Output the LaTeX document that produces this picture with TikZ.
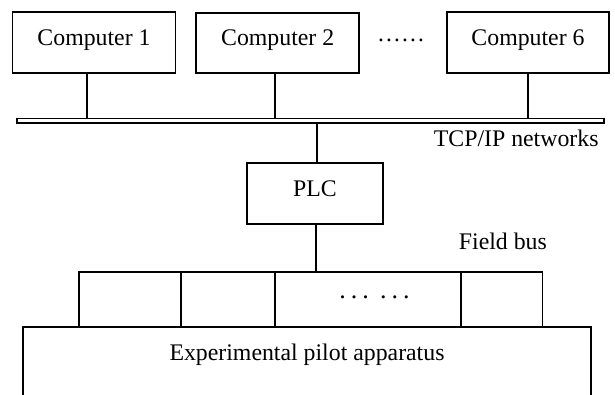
\documentclass[tikz,border=0pt]{standalone}
\usepackage{fontspec}
\setmainfont{Liberation Serif}
\begin{document}
\begin{tikzpicture}[x=1pt,y=-1pt,line width=1.8pt,
  lbl/.style={font=\fontsize{23.8pt}{28pt}\selectfont, inner sep=0pt},
  box/.style={draw, lbl, text height=15.7pt, text depth=10pt, minimum width=#1},
  box/.default=163pt]
\useasboundingbox (0,0) rectangle (615,394);
% computers
\node[box, minimum height=61pt] (c1) at (94,42.2) {Computer 1};
\node[box, minimum height=59.4pt] (c2) at (277.7,43) {Computer 2};
\node[box=162.6pt, minimum height=61pt] (c6) at (528,42.2) {Computer 6};
\node[lbl, anchor=base] (dots1) at (401,41.5) {……};
% TCP/IP bar
\node[draw, fill=white, inner sep=0pt, minimum width=587.3pt, minimum height=4.3pt] (bar) at (310.35,120.65) {};
\node[lbl, anchor=base west] (tcp) at (433,146.7) {TCP/IP networks};
\draw ([xshift=-6.7pt]c1.south) -- ([xshift=-6.7pt]c1.south |- bar.north);
\draw ([xshift=-2.4pt]c2.south) -- ([xshift=-2.4pt]c2.south |- bar.north);
\draw ([xshift=-0.3pt]c6.south) -- ([xshift=-0.3pt]c6.south |- bar.north);
% PLC
\node[box=136.6pt, minimum height=61.3pt] (plc) at (315,193.4) {PLC};
\draw ([xshift=1.8pt]plc.north) -- ([xshift=1.8pt]plc.north |- bar.south);
\node[lbl, anchor=base west] (field) at (458,249.3) {Field bus};
% field bus
\coordinate (busL) at (79,271.7);
\coordinate (busR) at (542.5,271.7);
\coordinate (appNW) at (23.3,326.7);
\coordinate (appNE) at (591,326.7);
\coordinate (appSW) at (23.3,402);
\coordinate (appSE) at (591,402);
\draw ([xshift=1pt]plc.south) -- ([xshift=1pt]plc.south |- busL);
\draw (busL |- appNW) -- (busL) -- (busR) -- (busR |- appNW);
\foreach \x in {181,274.7,460.7}
  \draw (\x,271.7) -- (\x,326.7);
\node[lbl, anchor=base, font=\fontsize{26pt}{28pt}\selectfont] (dots2) at (374.5,298)
  {.\hspace{5pt}.\hspace{5pt}.\hspace{11.2pt}.\hspace{5pt}.\hspace{5pt}.};
% apparatus
\draw (appSW) -- (appNW) -- (appNE) -- (appSE);
\node[lbl, anchor=base] (app) at (307,360) {Experimental pilot apparatus};
\end{tikzpicture}
\end{document}
